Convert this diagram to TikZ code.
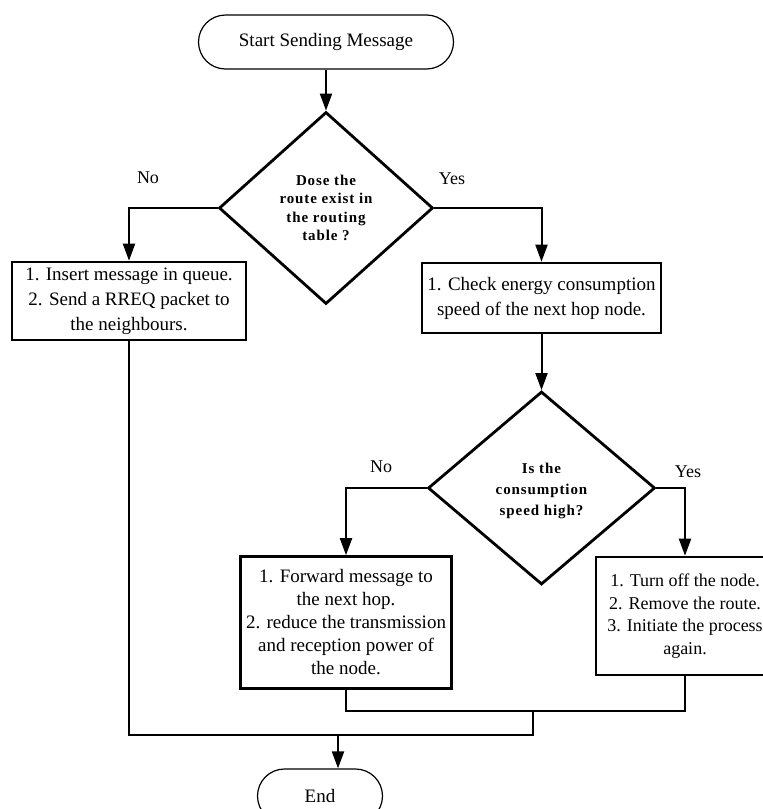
\documentclass[tikz,border=0pt]{standalone}
\usepackage{fontspec}
\setmainfont{Liberation Serif}
\newfontfamily\dfont[LetterSpace=6]{Liberation Serif}
\usetikzlibrary{arrows.meta,shapes.geometric}
\begin{document}
\begin{tikzpicture}[x=1pt,y=-1pt,
 term/.style={draw, line width=1.2pt, rounded corners=27pt, minimum height=54pt, inner sep=0pt, font=\fontsize{19}{23}\selectfont},
 proc/.style={draw, line width=2.6pt, align=center, inner sep=0pt},
 dec/.style={draw, diamond, line width=2.8pt, align=center, inner sep=0pt, font=\dfont\bfseries\fontsize{15}{18.5}\selectfont},
 conn/.style={line width=2pt},
 arr/.style={conn, -{Triangle[length=17pt,width=12pt]}},
 lbl/.style={font=\fontsize{18}{22}\selectfont, inner sep=0pt}
]
\useasboundingbox (0,0) rectangle (763,809);
\begin{scope}
\clip (0,0) rectangle (763,809);
\node[term, minimum width=255pt] (start) at (326,42) {Start Sending Message};
\node[dec, minimum width=214pt, minimum height=192pt] (d1) at (326,208) {Dose the\\route exist in\\the routing\\table ?};
\node[proc, minimum width=234pt, minimum height=78pt, font=\fontsize{19}{25}\selectfont] (b1) at (129,301) {1. Insert message in queue.\\2. Send a RREQ packet to\\the neighbours.};
\node[proc, minimum width=239pt, minimum height=70pt, font=\fontsize{19}{25}\selectfont] (b2) at (541.5,298) {1. Check energy consumption\\speed of the next hop node.};
\node[dec, minimum width=227pt, minimum height=193pt, font=\dfont\bfseries\fontsize{15}{21}\selectfont] (d2) at (541.5,488) {\\[-4pt]Is the\\consumption\\speed high?};
\node[proc, minimum width=211pt, minimum height=132pt, font=\fontsize{19}{23}\selectfont] (b3) at (346,622.5) {1. Forward message to\\the next hop.\\2. reduce the transmission\\and reception power of\\the node.};
\node[proc, minimum width=178pt, minimum height=118pt, font=\fontsize{18}{22.5}\selectfont] (b4) at (685,616) {1. Turn off the node.\\2. Remove the route.\\3. Initiate the process\\again.};
\node[term, minimum width=125pt] (end) at (320,796) {End};

\node[lbl] (no1) at (148,178) {No};
\node[lbl] (yes1) at (452,179) {Yes};
\node[lbl] (no2) at (381,467) {No};
\node[lbl] (yes2) at (688,472) {Yes};

\coordinate (j1) at (533,711);
\coordinate (j2) at (338,735);

\draw[arr] (start.south) -- (d1.north);
\draw[arr] (d1.west) -| (b1.north);
\draw[arr] (d1.east) -| (b2.north);
\draw[arr] (b2.south) -- (d2.north);
\draw[arr] (d2.west) -| (b3.north);
\draw[arr] (d2.east) -| (b4.north);
\draw[conn] (b3.south) |- (j1) -| (b4.south);
\draw[conn] (b1.south) |- (j1 |- j2) -- (j1);
\draw[arr] (j2) -- (j2 |- end.north);
\end{scope}
\end{tikzpicture}
\end{document}
